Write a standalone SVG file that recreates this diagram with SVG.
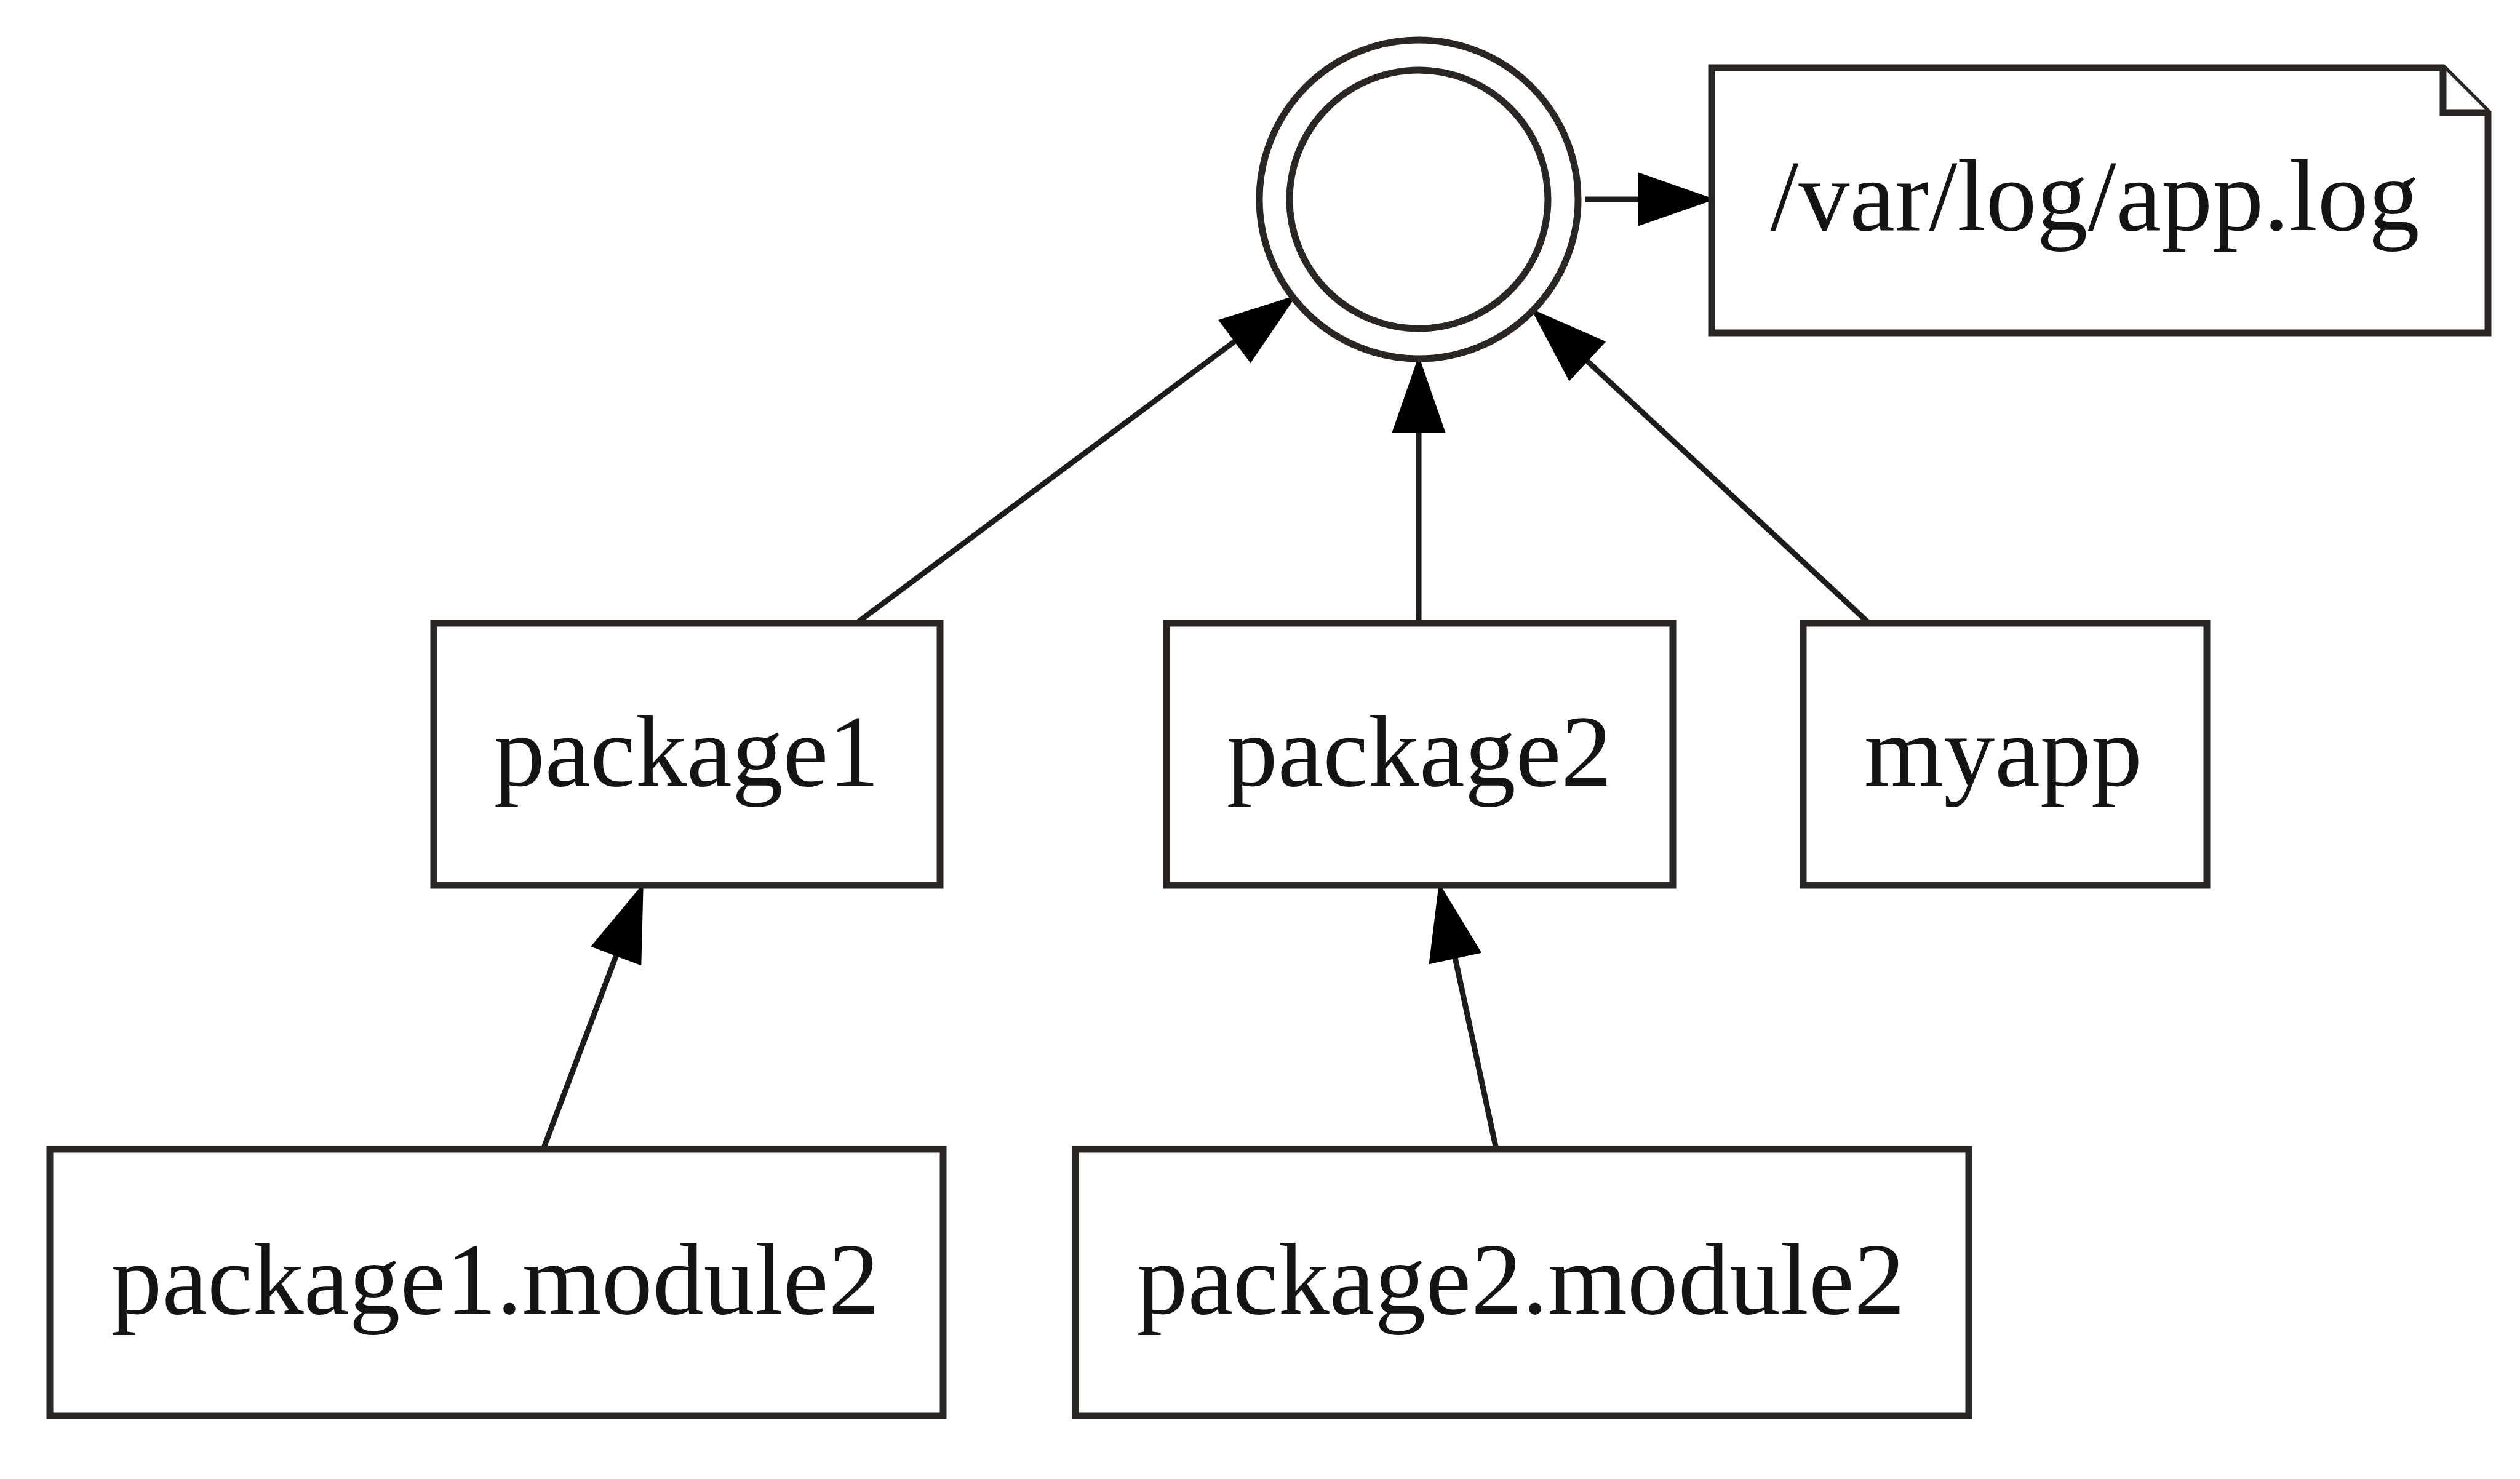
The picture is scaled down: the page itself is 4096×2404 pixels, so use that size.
<svg xmlns="http://www.w3.org/2000/svg" width="4096" height="2404" viewBox="0 0 4096 2404">
<style>
.box{fill:#fff;stroke:#2a2623;stroke-width:11}
.lbl{font-family:"Liberation Serif","Times New Roman",serif;font-size:166px;fill:#141414;text-anchor:middle}
.edge{stroke:#1e1c1a;stroke-width:9;fill:none}
</style>
<defs>
<marker id="arr" markerUnits="userSpaceOnUse" viewBox="0 -45 120 90" refX="0" refY="0" markerWidth="120" markerHeight="90" orient="auto" overflow="visible">
<path d="M0,-41 L118,0 L0,41 z" fill="#000" stroke="#000" stroke-width="4"/>
</marker>
</defs>
<rect width="4096" height="2404" fill="#fff"/>
<g id="connectors">
<line class="edge" x1="1392" y1="1013" x2="2008" y2="554" marker-end="url(#arr)"/>
<line class="edge" x1="2306" y1="1013" x2="2306" y2="702" marker-end="url(#arr)"/>
<line class="edge" x1="3038" y1="1013" x2="2579" y2="586" marker-end="url(#arr)"/>
<line class="edge" x1="2576" y1="324" x2="2664" y2="324" marker-end="url(#arr)"/>
<line class="edge" x1="883" y1="1868" x2="1002" y2="1552" marker-end="url(#arr)"/>
<line class="edge" x1="2432" y1="1868" x2="2365" y2="1556" marker-end="url(#arr)"/>
</g>
<g id="root">
<circle cx="2306" cy="324" r="259" class="box"/>
<circle cx="2306" cy="324" r="210" class="box"/>
</g>
<g id="applog">
<path class="box" d="M2782,110 L3971,110 L4044,183 L4044,541 L2782,541 Z"/>
<path class="box" d="M3971,110 L3971,183 L4044,183" fill="none"/>
<text class="lbl" x="3405" y="374">/var/log/app.log</text>
</g>
<g id="package1">
<rect class="box" x="705" y="1013" width="823" height="426"/>
<text class="lbl" x="1116" y="1277">package1</text>
</g>
<g id="package2">
<rect class="box" x="1896" y="1013" width="823" height="426"/>
<text class="lbl" x="2307" y="1277">package2</text>
</g>
<g id="myapp">
<rect class="box" x="2931" y="1013" width="656" height="426"/>
<text class="lbl" x="3256" y="1277">myapp</text>
</g>
<g id="package1.module2">
<rect class="box" x="81" y="1868" width="1452" height="433"/>
<text class="lbl" x="805" y="2135">package1.module2</text>
</g>
<g id="package2.module2">
<rect class="box" x="1748" y="1868" width="1452" height="433"/>
<text class="lbl" x="2472" y="2135">package2.module2</text>
</g>
</svg>
